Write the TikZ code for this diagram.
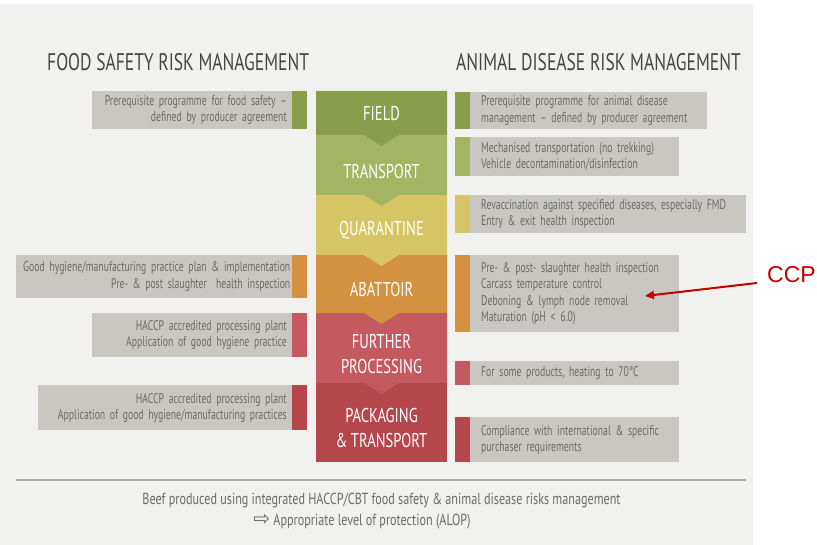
\documentclass[tikz,border=0pt]{standalone}
\usepackage{fontspec}
\setmainfont{PT Sans}
\newfontfamily\boxfont[FakeStretch=0.695]{PT Sans}
\newfontfamily\labelfont[FakeStretch=0.73]{PT Sans}
\newfontfamily\footfont[FakeStretch=0.76]{PT Sans}
\newfontfamily\symfont{DejaVu Sans}
\newfontfamily\ccpfont{Liberation Sans}
\usetikzlibrary{arrows.meta}

\definecolor{panelbg}{HTML}{F1F1EF}
\definecolor{boxgray}{HTML}{CAC7C2}
\definecolor{txtgray}{HTML}{6A6A68}
\definecolor{headgray}{HTML}{454543}
\definecolor{rulegray}{HTML}{A8A8A6}
\definecolor{cfield}{HTML}{899E4A}
\definecolor{ctransport}{HTML}{A3B563}
\definecolor{cquarantine}{HTML}{D6C564}
\definecolor{cabattoir}{HTML}{D49140}
\definecolor{cfurther}{HTML}{C45A60}
\definecolor{cpack}{HTML}{B4464C}
\definecolor{ccpred}{HTML}{C00000}

\tikzset{
  stagelbl/.style={text=white, align=center, inner sep=0pt,
    font=\labelfont\fontsize{20}{25}\selectfont},
  head/.style={text=headgray, inner sep=0pt,
    font=\labelfont\fontsize{24}{26}\selectfont},
  smalltxt/.style={fill=boxgray, text=txtgray, inner ysep=0pt,
    font=\boxfont\fontsize{14}{16.4}\selectfont},
  lbox/.style={smalltxt, anchor=north east, inner xsep=5pt, align=right},
  rbox/.style={smalltxt, anchor=north west, inner xsep=11pt, align=left},
  foot/.style={text=txtgray, inner sep=0pt,
    font=\footfont\fontsize{16}{18}\selectfont},
  ccplbl/.style={text=ccpred, inner sep=0pt,
    font=\ccpfont\fontsize{23}{24}\selectfont},
  ccparrow/.style={draw=ccpred, line width=2pt,
    -{Triangle[length=9pt,width=8pt]}},
}

\begin{document}
\begin{tikzpicture}[x=1pt,y=-1pt]
\useasboundingbox (0,0) rectangle (817,545);
\fill[panelbg] (0,4) rectangle (753,545);

% central process column, each stage pointing into the next
\fill[cpack] (316,383) rectangle (447,462);
\fill[cfurther] (316,313) -- (447,313) -- (447,383) -- (399,383)
  -- (381.5,394) -- (364,383) -- (316,383) -- cycle;
\fill[cabattoir] (316,255) -- (447,255) -- (447,313) -- (399,313)
  -- (381.5,324) -- (364,313) -- (316,313) -- cycle;
\fill[cquarantine] (316,195) -- (447,195) -- (447,255) -- (399,255)
  -- (381.5,266) -- (364,255) -- (316,255) -- cycle;
\fill[ctransport] (316,135) -- (447,135) -- (447,195) -- (399,195)
  -- (381.5,206) -- (364,195) -- (316,195) -- cycle;
\fill[cfield] (316,91) -- (447,91) -- (447,135) -- (399,135)
  -- (381.5,146) -- (364,135) -- (316,135) -- cycle;

\node[stagelbl] (field) at (381.5,114) {FIELD};
\node[stagelbl] (transport) at (381.5,172) {TRANSPORT};
\node[stagelbl] (quarantine) at (381.5,230) {QUARANTINE};
\node[stagelbl] (abattoir) at (381.5,290) {ABATTOIR};
\node[stagelbl] (further) at (381.5,354) {FURTHER\\PROCESSING};
\node[stagelbl] (packaging) at (381.5,428) {PACKAGING\\\&\,TRANSPORT};

% column headings
\node[head, anchor=west] (fshead) at (47,62) {FOOD SAFETY RISK MANAGEMENT};
\node[head, anchor=east] (adhead) at (741,62) {ANIMAL DISEASE RISK MANAGEMENT};

% food safety measures (left)
\node[lbox, text width=190pt, minimum height=38pt] (lfield) at (292,91)
  {Prerequisite programme for food safety –\\defined by producer agreement};
\fill[cfield] (lfield.north east) rectangle ++(15,38);
\node[lbox, text width=273pt, inner xsep=1.5pt, minimum height=43pt] (labattoir) at (292,255)
  {Good hygiene/manufacturing practice plan \& implementation\\Pre- \& post slaughter\ \ health inspection};
\fill[cabattoir] (labattoir.north east) rectangle ++(15,43);
\node[lbox, text width=190pt, minimum height=44pt] (lfurther) at (292,313)
  {HACCP accredited processing plant\\Application of good hygiene practice};
\fill[cfurther] (lfurther.north east) rectangle ++(15,44);
\node[lbox, text width=244pt, minimum height=45pt] (lpack) at (292,385)
  {HACCP accredited processing plant\\Application of good hygiene/manufacturing practices};
\fill[cpack] (lpack.north east) rectangle ++(15,45);

% animal disease measures (right)
\node[rbox, text width=215pt, minimum height=37pt] (rfield) at (470,92)
  {Prerequisite programme for animal disease\\management – defined by producer agreement};
\fill[cfield] (rfield.north west) rectangle ++(-15,37);
\node[rbox, text width=187pt, minimum height=39pt] (rtransport) at (470,137)
  {Mechanised transportation (no trekking)\\Vehicle decontamination/disinfection};
\fill[ctransport] (rtransport.north west) rectangle ++(-15,39);
\node[rbox, text width=254pt, minimum height=38pt] (rquarantine) at (470,195)
  {Revaccination against specified diseases, especially FMD\\Entry \& exit health inspection};
\fill[cquarantine] (rquarantine.north west) rectangle ++(-15,38);
\node[rbox, text width=187pt, minimum height=77pt] (rabattoir) at (470,255)
  {Pre- \& post- slaughter health inspection\\Carcass temperature control\\Deboning \& lymph node removal\\Maturation (pH < 6.0)};
\fill[cabattoir] (rabattoir.north west) rectangle ++(-15,77);
\node[rbox, text width=187pt, minimum height=24pt] (rfurther) at (470,361)
  {For some products, heating to 70°C};
\fill[cfurther] (rfurther.north west) rectangle ++(-15,24);
\node[rbox, text width=187pt, minimum height=45pt] (rpack) at (470,417)
  {Compliance with international \& specific\\purchaser requirements};
\fill[cpack] (rpack.north west) rectangle ++(-15,45);

% summary
\draw[rulegray, line width=1.2pt] (16,480) -- (746,480);
\node[foot] (beef) at (381.5,500)
  {Beef produced using integrated HACCP/CBT food safety \& animal disease risks management};
\node[foot] (alop) at (362,522)
  {{\symfont\fontsize{20}{18}\selectfont ⇨}\ Appropriate level of protection (ALOP)};

% critical control point callout
\node[ccplbl, anchor=west] (ccp) at (767,275) {CCP};
\coordinate (ccptip) at (645,296);
\draw[ccparrow] ([shift={(-10,8)}]ccp.west) -- (ccptip);
\end{tikzpicture}
\end{document}
